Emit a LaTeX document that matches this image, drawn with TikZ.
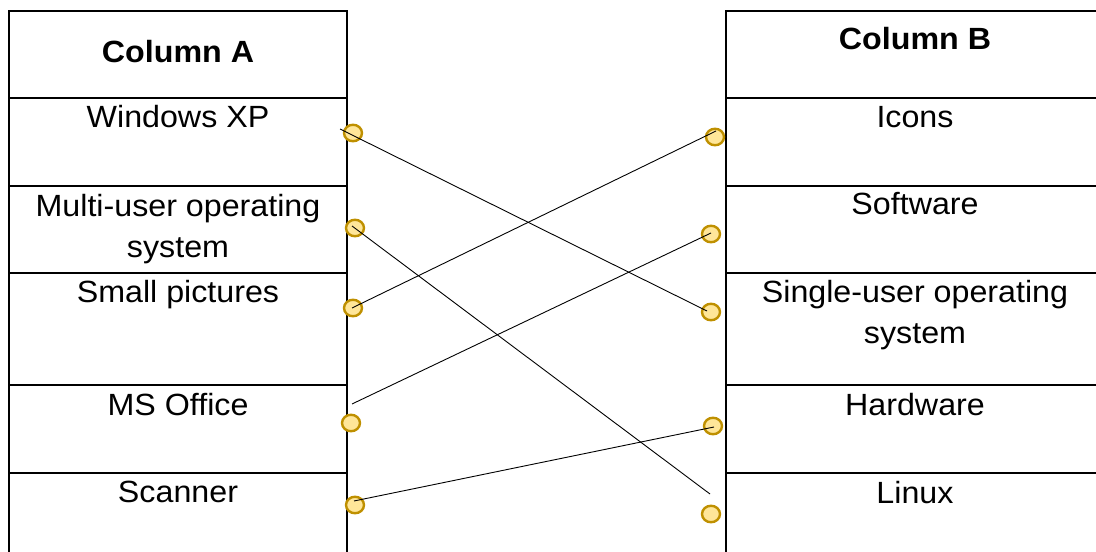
\documentclass[tikz,border=0pt]{standalone}
\usepackage{fontspec}
\setmainfont[FakeStretch=1.05]{Liberation Sans}
\usetikzlibrary{shapes.geometric}
\definecolor{dotfill}{HTML}{FFE699}
\definecolor{dotline}{HTML}{BF9000}
\begin{document}
\begin{tikzpicture}[x=1bp,y=-1bp,
  grid/.style={line width=2bp,black,line cap=rect},
  dot/.style={ellipse,draw=dotline,fill=dotfill,line width=2.4bp,minimum width=18bp,minimum height=16.5bp,inner sep=0pt},
  link/.style={line width=0.9bp,black},
  cell/.style={font=\fontsize{30.8}{42}\selectfont,anchor=base,align=center,inner sep=0pt},
  head/.style={cell,font=\fontsize{30.8}{42}\selectfont\bfseries}]
\useasboundingbox (0,0) rectangle (1096,552);
% left table
\draw[grid] (9,560) -- (9,11) -- (347,11) -- (347,560);
\foreach \y in {98,186,273,385,473} \draw[grid] (9,\y) -- (347,\y);
% right table
\draw[grid] (726,560) -- (726,11) -- (1110,11);
\foreach \y in {98,186,273,385,473} \draw[grid] (726,\y) -- (1110,\y);
% texts (anchor=base is the baseline of the last line)
\node[head] (ha) at (178,63) {Column A};
\node[head] (hb) at (915,50) {Column B};
\node[cell] (a1) at (178,128) {Windows XP};
\node[cell] (a2) at (178,258) {Multi-user operating\\system};
\node[cell] (a3) at (178,303) {Small pictures};
\node[cell] (a4) at (178,415) {MS Office};
\node[cell] (a5) at (178,502) {Scanner};
\node[cell] (b1) at (915,128) {Icons};
\node[cell] (b2) at (915,215) {Software};
\node[cell] (b3) at (915,344) {Single-user operating\\system};
\node[cell] (b4) at (915,415) {Hardware};
\node[cell] (b5) at (915,503) {Linux};
% dots
\node[dot] (pa1) at (353,133) {};
\node[dot] (pa2) at (355,228) {};
\node[dot] (pa3) at (353,308) {};
\node[dot] (pa4) at (351,423) {};
\node[dot] (pa5) at (355,505) {};
\node[dot] (pb1) at (715,137) {};
\node[dot] (pb2) at (711,234) {};
\node[dot] (pb3) at (711,312) {};
\node[dot] (pb4) at (713,426) {};
\node[dot] (pb5) at (711,514) {};
% connector ends
\coordinate (s1) at (340,129); \coordinate (e1) at (707,311);
\coordinate (s2) at (352,226); \coordinate (e2) at (710,494);
\coordinate (s3) at (352,308); \coordinate (e3) at (716,131);
\coordinate (s4) at (352,404); \coordinate (e4) at (711,233);
\coordinate (s5) at (354,501); \coordinate (e5) at (714,427);
\draw[link] (s1) -- (e1);
\draw[link] (s2) -- (e2);
\draw[link] (s3) -- (e3);
\draw[link] (s4) -- (e4);
\draw[link] (s5) -- (e5);
\end{tikzpicture}
\end{document}
